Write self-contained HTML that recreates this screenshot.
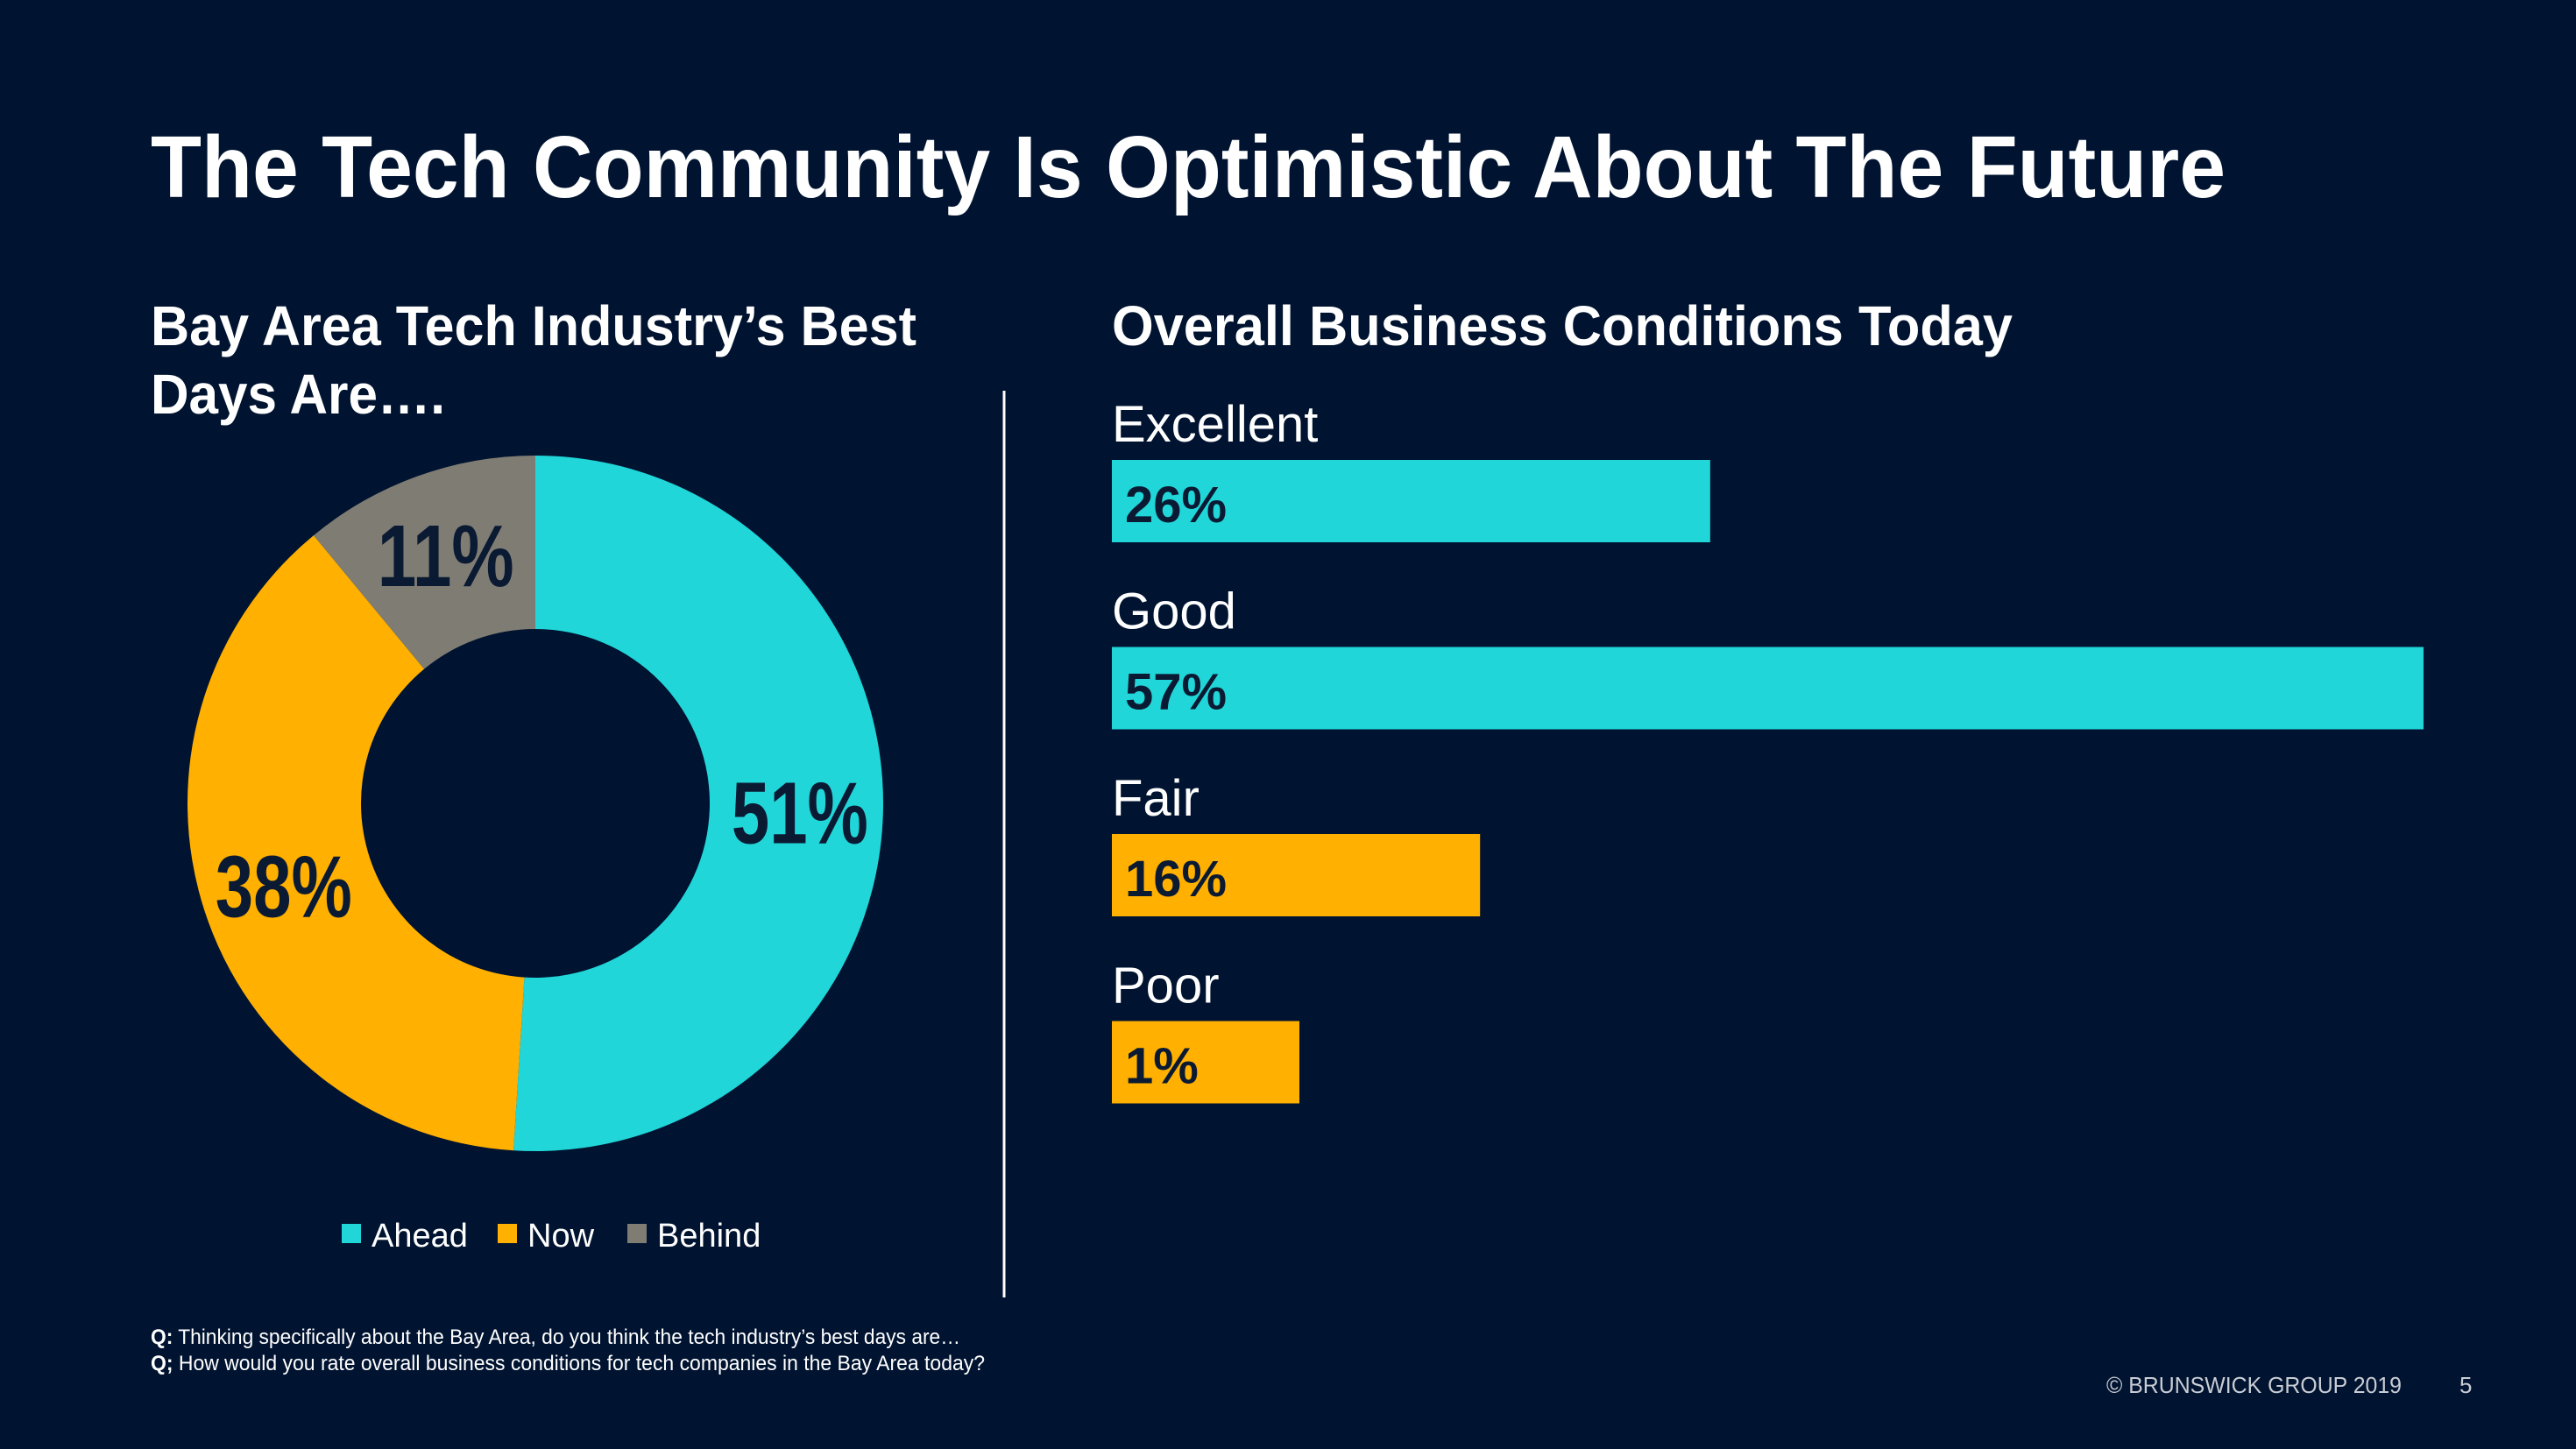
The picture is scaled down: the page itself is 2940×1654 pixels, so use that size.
<!DOCTYPE html>
<html><head><meta charset="utf-8">
<style>
html,body{margin:0;padding:0;background:#001330;}
svg{display:block;font-family:"Liberation Sans",sans-serif;}
</style></head>
<body>
<svg id="s" width="2940" height="1654" viewBox="0 0 2940 1654" xmlns="http://www.w3.org/2000/svg">
<rect width="2940" height="1654" fill="#001330"/>
<text x="172" y="225" font-size="100" font-weight="bold" fill="#fff" textLength="2368" lengthAdjust="spacingAndGlyphs">The Tech Community Is Optimistic About The Future</text>
<text x="172" y="394" font-size="64" font-weight="bold" fill="#fff" textLength="874" lengthAdjust="spacingAndGlyphs">Bay Area Tech Industry’s Best</text>
<text x="172" y="472" font-size="64" font-weight="bold" fill="#fff" textLength="336" lengthAdjust="spacingAndGlyphs">Days Are….</text>
<text x="1269" y="394" font-size="64" font-weight="bold" fill="#fff" textLength="1028" lengthAdjust="spacingAndGlyphs">Overall Business Conditions Today</text>
<line x1="1146" y1="446" x2="1146" y2="1481" stroke="#fff" stroke-width="3"/>
<g id="donut"></g>
<g id="bars"></g>
<g id="legend"></g>
<text x="172" y="1534" font-size="24" fill="#fff" textLength="924" lengthAdjust="spacingAndGlyphs"><tspan font-weight="bold">Q:</tspan> Thinking specifically about the Bay Area, do you think the tech industry’s best days are…</text>
<text x="172" y="1564" font-size="24" fill="#fff" textLength="952" lengthAdjust="spacingAndGlyphs"><tspan font-weight="bold">Q;</tspan> How would you rate overall business conditions for tech companies in the Bay Area today?</text>
<text x="2404" y="1590" font-size="26" fill="#c8ccd4" textLength="337" lengthAdjust="spacingAndGlyphs">© BRUNSWICK GROUP 2019</text>
<text x="2807" y="1590" font-size="26" fill="#c8ccd4">5</text>
</svg>
<script>
const donutLabels = ["Ahead","Now","Behind"];
const donutValues = [51,38,11];
const donutColors = ["#20D6D8","#FFB000","#7F7C73"];
const barCategories = ["Excellent","Good","Fair","Poor"];
const barValues = [26,57,16,1];
const barColors = ["#20D6D8","#20D6D8","#FFB000","#FFB000"];

const NS="http://www.w3.org/2000/svg";
function mk(tag,attrs,parent){const e=document.createElementNS(NS,tag);for(const k in attrs)e.setAttribute(k,attrs[k]);parent.appendChild(e);return e;}

// donut
const cx=611,cy=917,R=397,r=199,labelR=302;
const dg=document.getElementById('donut');
const total=donutValues.reduce((a,b)=>a+b,0);
let acc=0;
function pt(rad,a){return [cx+rad*Math.sin(a),cy-rad*Math.cos(a)];}
donutValues.forEach((v,i)=>{
  const a0=acc/total*2*Math.PI; acc+=v; const a1=acc/total*2*Math.PI;
  const large=(a1-a0)>Math.PI?1:0;
  const [x0,y0]=pt(R,a0),[x1,y1]=pt(R,a1),[x2,y2]=pt(r,a1),[x3,y3]=pt(r,a0);
  const p=mk('path',{d:`M${x0},${y0}A${R},${R} 0 ${large} 1 ${x1},${y1}L${x2},${y2}A${r},${r} 0 ${large} 0 ${x3},${y3}Z`,fill:donutColors[i]},dg);
  
  
  const am=(a0+a1)/2;
  const [lx,ly]=pt(labelR,am);
  const txt=v+'%';
  const tl=txt.length*52;
  const t=mk('text',{x:lx-tl/2,y:ly+36,'font-size':100,'font-weight':'bold',fill:'#0b1a33',textLength:tl,lengthAdjust:'spacingAndGlyphs'},dg);
  t.textContent=txt;
  
  
});

// legend
const lg=document.getElementById('legend');
const legX=[390,568,716];
donutLabels.forEach((l,i)=>{
  const s=mk('rect',{x:legX[i],y:1397,width:22,height:22,fill:donutColors[i]},lg);
  
  
  const t=mk('text',{x:legX[i]+34,y:1423,'font-size':38,fill:'#fff'},lg);
  t.textContent=l;
  
  
});

// bars
const bg=document.getElementById('bars');
const bx0=1269,perPct=1497/57,minW=214,rowH=213.5,top0=525,barH=94;
function xw(v){return Math.max(v*perPct,minW);}
barCategories.forEach((c,i)=>{
  const y=top0+i*rowH;
  const lab=mk('text',{x:bx0,y:y-21,'font-size':58,fill:'#fff'},bg);
  lab.textContent=c;
  
  
  const b=mk('rect',{x:bx0,y:y,width:xw(barValues[i]),height:barH,fill:barColors[i]},bg);
  
  
  const t=mk('text',{x:bx0+15,y:y+71,'font-size':58,'font-weight':'bold',fill:'#0b1a33'},bg);
  t.textContent=barValues[i]+'%';
  
  
});
</script>
</body></html>
